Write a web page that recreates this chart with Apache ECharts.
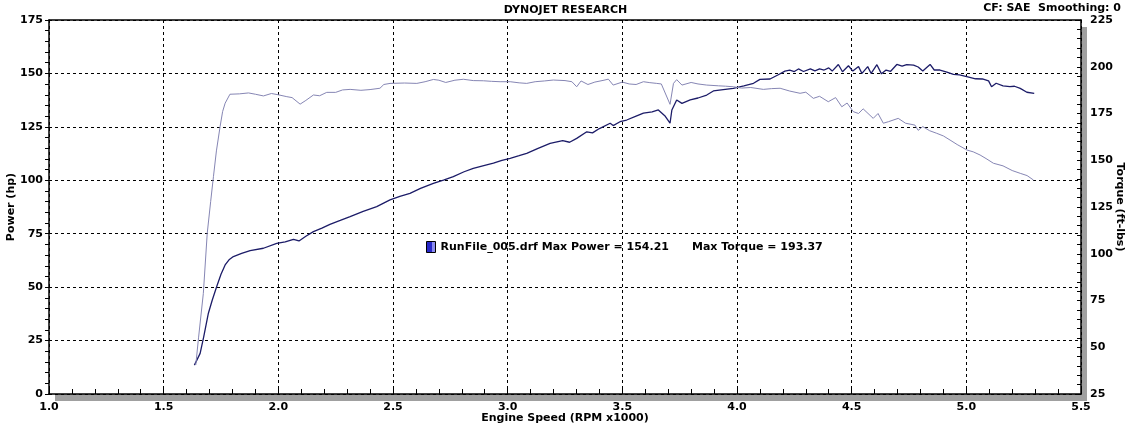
<!DOCTYPE html>
<html>
<head>
<meta charset="utf-8">
<title>Dyno run</title>
<script src="https://cdn.jsdelivr.net/npm/echarts@6/dist/echarts.min.js"></script>
<style>
  html, body { margin: 0; padding: 0; background: #fff; }
  #chart { width: 1131px; height: 426px; }
</style>
</head>
<body>
<div id="chart"></div>
<script>
  // engine speed (RPM x1000) / power (hp)
  var powerRpm = [1.634, 1.659, 1.675, 1.695, 1.712, 1.731, 1.75, 1.768, 1.785, 1.804, 1.84, 1.877, 1.935, 1.993, 2.03, 2.066, 2.09, 2.12, 2.153, 2.19,
    2.225, 2.27, 2.313, 2.37, 2.429, 2.487, 2.53, 2.574, 2.62, 2.676, 2.72, 2.763, 2.81, 2.85, 2.9, 2.938, 2.975, 3.011, 3.05, 3.083,
    3.13, 3.185, 3.24, 3.27, 3.301, 3.345, 3.37, 3.40, 3.447, 3.46, 3.49, 3.519, 3.56, 3.592, 3.63, 3.657, 3.685, 3.708, 3.716, 3.737,
    3.76, 3.796, 3.83, 3.868, 3.897, 3.94, 3.984, 4.03, 4.072, 4.10, 4.144, 4.18, 4.209, 4.23, 4.25, 4.268, 4.29, 4.32, 4.34, 4.36,
    4.38, 4.40, 4.415, 4.442, 4.46, 4.486, 4.505, 4.53, 4.545, 4.57, 4.585, 4.61, 4.63, 4.65, 4.67, 4.697, 4.72, 4.74, 4.77, 4.79,
    4.81, 4.842, 4.86, 4.885, 4.915, 4.944, 4.97, 5.002, 5.04, 5.07, 5.097, 5.11, 5.13, 5.16, 5.19, 5.21, 5.235, 5.264, 5.296];
  var powerHp = [13.5, 19, 27, 37.8, 44, 50.2, 56, 60.4, 62.8, 64.3, 65.8, 67.1, 68.2, 70.5, 71.2, 72.4, 71.6, 73.8, 76, 77.6,
    79.4, 81.2, 83, 85.5, 87.7, 90.8, 92.5, 93.9, 96.2, 98.6, 100.1, 101.7, 104, 105.6, 107, 108, 109.3, 110.3, 111.5, 112.6,
    114.8, 117.3, 118.6, 117.8, 119.6, 122.7, 122.2, 124.2, 126.7, 125.6, 127.4, 128.2, 130, 131.4, 132, 132.9, 130.2, 126.7, 132.9, 137.6,
    136, 137.6, 138.5, 139.9, 141.8, 142.4, 143, 144.2, 145.4, 147.2, 147.4, 149.4, 151.1, 151.5, 150.9, 152.1, 150.9, 152.1, 151.2, 152.1,
    151.6, 152.6, 151.1, 154.2, 150.8, 153.6, 151.1, 153.2, 150, 153.2, 150, 154.1, 149.8, 151.6, 151, 154.2, 153.4, 154.1, 153.9, 153,
    151.1, 154.2, 151.6, 151.6, 150.6, 149.6, 149.3, 148.5, 147.5, 147.4, 146.5, 143.8, 145.4, 144.2, 143.8, 144, 143, 141.2, 140.7];

  // engine speed (RPM x1000) / torque (ft-lbs)
  var torqueRpm = [1.64, 1.652, 1.673, 1.69, 1.705, 1.717, 1.73, 1.746, 1.757, 1.768, 1.789, 1.83, 1.87, 1.90, 1.935, 1.97, 2.00, 2.037, 2.06, 2.095,
    2.12, 2.153, 2.18, 2.211, 2.25, 2.28, 2.313, 2.36, 2.40, 2.443, 2.46, 2.487, 2.55, 2.604, 2.64, 2.676, 2.70, 2.73, 2.77, 2.807,
    2.85, 2.894, 2.93, 2.967, 3.011, 3.05, 3.083, 3.12, 3.16, 3.199, 3.25, 3.28, 3.301, 3.32, 3.35, 3.38, 3.42, 3.439, 3.46, 3.50,
    3.53, 3.56, 3.592, 3.62, 3.65, 3.67, 3.708, 3.723, 3.737, 3.76, 3.80, 3.83, 3.868, 3.92, 3.95, 3.984, 4.02, 4.06, 4.115, 4.15,
    4.188, 4.23, 4.275, 4.30, 4.333, 4.36, 4.398, 4.43, 4.457, 4.48, 4.507, 4.53, 4.55, 4.594, 4.615, 4.638, 4.66, 4.703, 4.735, 4.776,
    4.79, 4.81, 4.84, 4.871, 4.90, 4.929, 4.96, 5.002, 5.03, 5.06, 5.09, 5.118, 5.16, 5.20, 5.235, 5.265, 5.293];
  var torqueFt = [40.5, 55, 78.8, 111, 128, 141.2, 155, 168, 176, 180.5, 185.3, 185.5, 186, 185.3, 184.4, 185.7, 185, 184, 183.5, 180,
    182, 184.9, 184.5, 186.3, 186.3, 187.6, 187.9, 187.4, 187.8, 188.5, 190.5, 191.1, 191.3, 191.1, 192, 193.2, 192.8, 191.6, 192.8, 193.3,
    192.6, 192.5, 192.2, 192, 192, 191.4, 191.1, 192, 192.4, 192.9, 192.6, 192, 189.3, 192.4, 190.5, 191.8, 192.8, 193.37, 190.2, 191.8,
    190.8, 190.5, 192, 191.5, 191.1, 190.8, 179.9, 191.1, 193.1, 190.2, 191.6, 190.8, 190.2, 189.8, 189.6, 189.3, 188.6, 188.9, 187.9, 188.3,
    188.5, 187, 185.8, 186.4, 183.1, 184.2, 181.3, 183.5, 178.6, 180.6, 176, 175, 177.5, 172.4, 175, 169.8, 170.6, 172.4, 169.8, 168.8,
    166, 168, 165.8, 164.4, 163, 160.8, 158.4, 155.5, 154.5, 152.8, 150.6, 148.4, 147, 144.5, 143, 141.8, 139.4];

  var runName = 'RunFile_005.drf';
  var maxPower = '154.21';
  var maxTorque = '193.37';

  function pairs(xs, ys) {
    var out = [];
    for (var i = 0; i < xs.length; i++) out.push([xs[i], ys[i]]);
    return out;
  }

  var fnt = 'DejaVu Sans';
  var lbl = { color: '#000', fontFamily: fnt, fontWeight: 'bold', fontSize: 11 };
  var dash = { color: '#000', width: 1, type: [3, 3] };
  var frame = { show: true, lineStyle: { color: '#000', width: 1.5 } };

  // two-tone blue swatch like the dyno software draws
  var swatch = {
    type: 'linear', x: 0, y: 0, x2: 1, y2: 0,
    colorStops: [
      { offset: 0, color: '#2828c8' }, { offset: 0.6, color: '#2828c8' },
      { offset: 0.6, color: '#8c8cf0' }, { offset: 1, color: '#8c8cf0' }
    ]
  };

  var myChart = echarts.init(document.getElementById('chart'), null, { renderer: 'canvas' });

  var option = {
    animation: false,
    backgroundColor: '#fff',
    title: [
      { text: 'DYNOJET RESEARCH', left: 'center', top: 0,
        textStyle: { fontFamily: fnt, fontWeight: 'bold', fontSize: 11, color: '#000' } },
      { text: 'CF: SAE  Smoothing: 0', right: 5, top: -2,
        textStyle: { fontFamily: fnt, fontWeight: 'bold', fontSize: 11, color: '#000' } }
    ],
    legend: {
      left: 426, top: 241, padding: 0,
      selectedMode: false,
      itemWidth: 9, itemHeight: 11, itemGap: 0,
      data: [{ name: runName, icon: 'rect',
               itemStyle: { color: swatch, borderColor: '#000', borderWidth: 1 } }],
      formatter: function (name) {
        return name + ' Max Power = ' + maxPower + '      Max Torque = ' + maxTorque;
      },
      textStyle: { fontFamily: fnt, fontWeight: 'bold', fontSize: 11, color: '#000' }
    },
    grid: {
      left: 49, right: 50, top: 20, bottom: 32,
      outerBoundsMode: 'none', containLabel: false,
      show: true, backgroundColor: '#fff', borderWidth: 0,
      shadowColor: '#a0a0a0', shadowOffsetX: 6, shadowOffsetY: 7, shadowBlur: 0
    },
    xAxis: [
      {
        type: 'value', min: 1, max: 5.5, interval: 0.5,
        name: 'Engine Speed (RPM x1000)', nameLocation: 'middle', nameGap: 19,
        nameMoveOverlap: false,
        nameTextStyle: lbl,
        axisLine: frame,
        axisTick: { show: true, inside: true, length: 5, lineStyle: { color: '#000' } },
        minorTick: { show: true, splitNumber: 5, length: 5, lineStyle: { color: '#000' } },
        axisLabel: Object.assign({ margin: 8, formatter: function (v) { return v.toFixed(1); } }, lbl),
        splitLine: { show: true, lineStyle: dash }
      },
      {
        // top edge of the plot frame only
        type: 'value', min: 1, max: 5.5, position: 'top',
        axisLine: frame, axisTick: { show: false }, axisLabel: { show: false },
        splitLine: { show: false }
      }
    ],
    yAxis: [
      {
        type: 'value', min: 0, max: 175, interval: 25, position: 'left',
        name: 'Power (hp)', nameLocation: 'middle', nameGap: 32,
        nameMoveOverlap: false,
        nameTextStyle: lbl,
        axisLine: frame,
        axisTick: { show: true, length: 4, lineStyle: { color: '#000' } },
        minorTick: { show: true, splitNumber: 5, length: 4, lineStyle: { color: '#000' } },
        axisLabel: Object.assign({ margin: 6 }, lbl),
        splitLine: { show: true, lineStyle: dash }
      },
      {
        type: 'value', min: 25, max: 225, interval: 25, position: 'right',
        name: 'Torque (ft-lbs)', nameLocation: 'middle', nameGap: 33, nameRotate: -90,
        nameMoveOverlap: false,
        nameTextStyle: lbl,
        axisLine: frame,
        axisTick: { show: true, inside: true, length: 4, lineStyle: { color: '#000' } },
        minorTick: { show: true, splitNumber: 5, length: 4, lineStyle: { color: '#000' } },
        axisLabel: Object.assign({ margin: 9 }, lbl),
        splitLine: { show: false }
      }
    ],
    series: [
      {
        name: runName, type: 'line', yAxisIndex: 0,
        data: pairs(powerRpm, powerHp),
        showSymbol: false, symbol: 'none',
        lineStyle: { color: '#1c1c68', width: 1.3 },
        itemStyle: { color: '#1c1c68' }
      },
      {
        name: 'Torque', type: 'line', yAxisIndex: 1,
        data: pairs(torqueRpm, torqueFt),
        showSymbol: false, symbol: 'none',
        lineStyle: { color: '#8686b4', width: 1 },
        itemStyle: { color: '#8686b4' }
      }
    ]
  };

  myChart.setOption(option);
</script>
</body>
</html>
